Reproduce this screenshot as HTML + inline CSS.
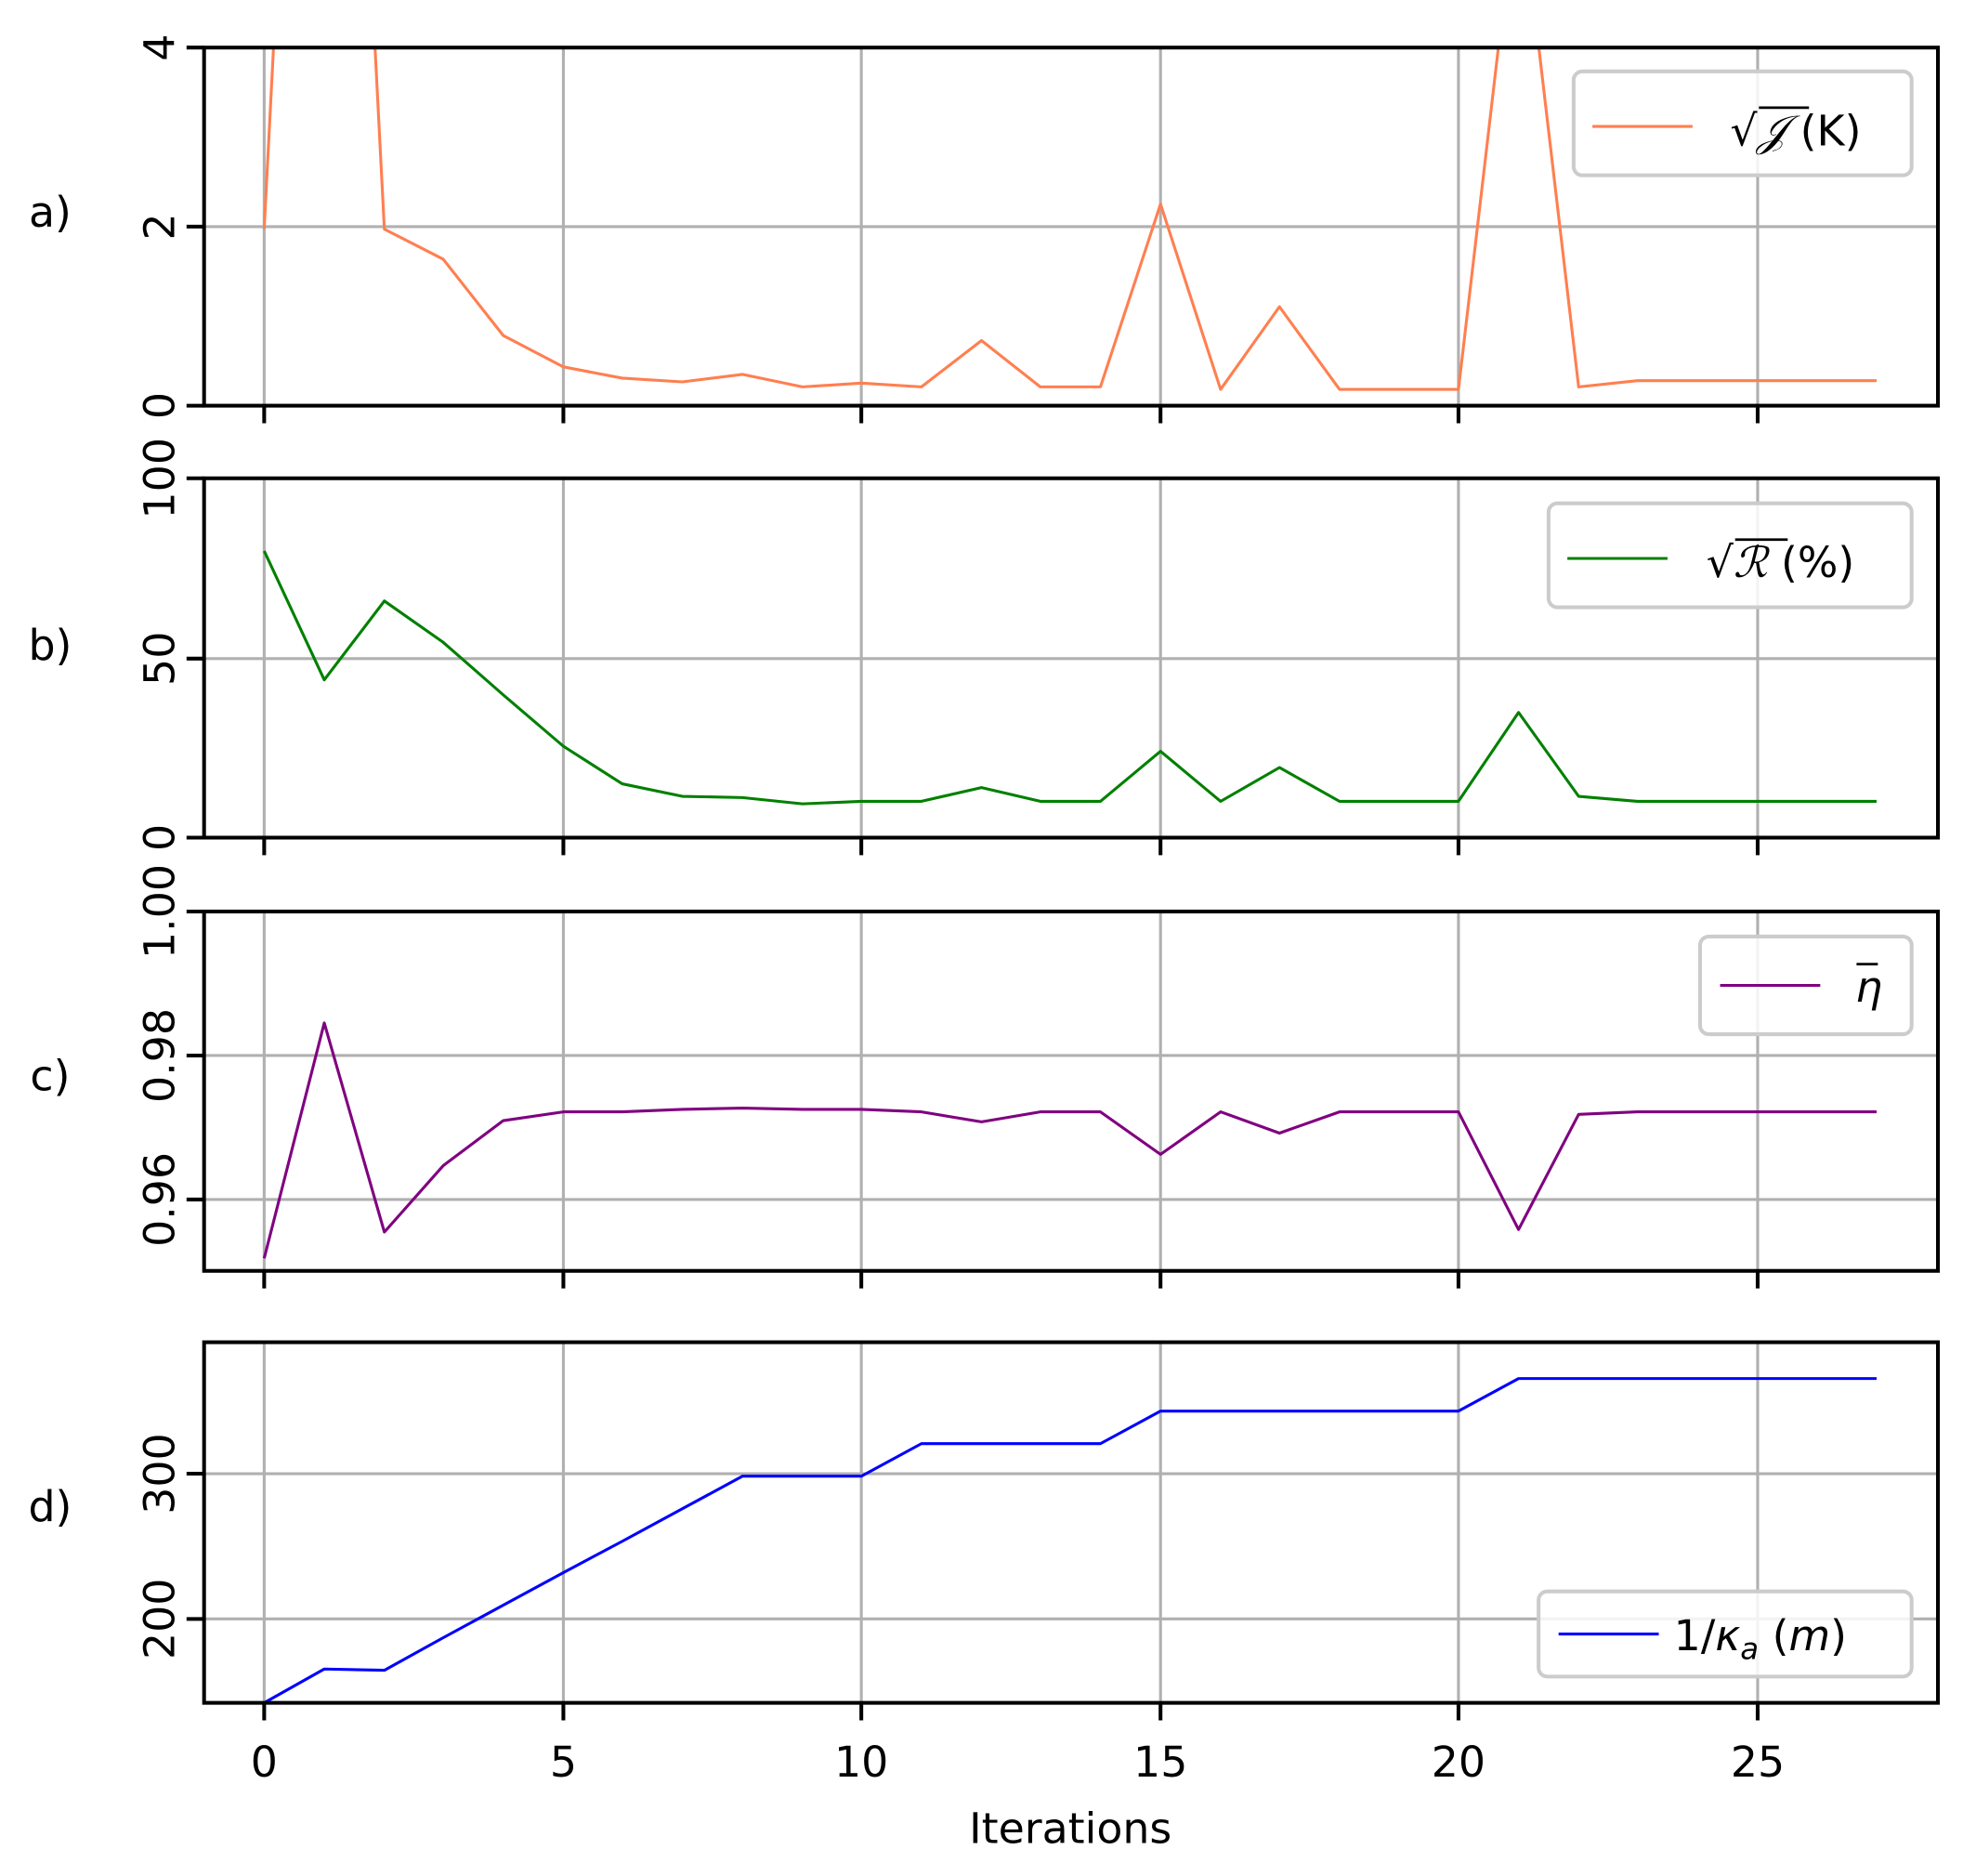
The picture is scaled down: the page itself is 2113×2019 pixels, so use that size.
<!DOCTYPE html>
<html><head><meta charset="utf-8"><style>html,body{margin:0;padding:0;background:#fff}svg{display:block}</style></head>
<body>
<svg xmlns="http://www.w3.org/2000/svg" width="2113" height="2019" viewBox="0 0 1568 1498.3" font-family="DejaVu Sans, Liberation Sans, sans-serif" font-size="34">
<defs>
<clipPath id="ca"><rect x="163" y="38" width="1385" height="286"/></clipPath>
<clipPath id="cb"><rect x="163" y="382" width="1385" height="287"/></clipPath>
<clipPath id="cc"><rect x="163" y="728" width="1385" height="287"/></clipPath>
<clipPath id="cd"><rect x="163" y="1072" width="1385" height="288"/></clipPath>
</defs>
<g stroke="#b0b0b0" stroke-width="2.3" fill="none">
<path d="M211,38V324M450,38V324M688,38V324M927,38V324M1165,38V324M1404,38V324"/>
<path d="M211,382V669M450,382V669M688,382V669M927,382V669M1165,382V669M1404,382V669"/>
<path d="M211,728V1015M450,728V1015M688,728V1015M927,728V1015M1165,728V1015M1404,728V1015"/>
<path d="M211,1072V1360M450,1072V1360M688,1072V1360M927,1072V1360M1165,1072V1360M1404,1072V1360"/>
<path d="M163,181H1548M163,526H1548M163,843H1548M163,958H1548M163,1177H1548M163,1293H1548"/>
</g>
<g fill="none" stroke-width="2.3" stroke-linejoin="round">
<polyline clip-path="url(#ca)" stroke="#ff7f50" points="211,183 259,-750 307,183 354,207 402,268 450,293 497,302 545,305 593,299 641,309 688,306 736,309 784,272 831,309 879,309 927,163 975,311 1022,245 1070,311 1118,311 1165,311 1213,-100 1261,309 1308,304 1356,304 1404,304 1452,304 1499,304"/>
<polyline clip-path="url(#cb)" stroke="#008000" points="211,440 259,543 307,480 354,513 402,555 450,596 497,626 545,636 593,637 641,642 688,640 736,640 784,629 831,640 879,640 927,600 975,640 1022,613 1070,640 1118,640 1165,640 1213,569 1261,636 1308,640 1356,640 1404,640 1452,640 1499,640"/>
<polyline clip-path="url(#cc)" stroke="#800080" points="211,1005 259,817 307,984 354,931 402,895 450,888 497,888 545,886 593,885 641,886 688,886 736,888 784,896 831,888 879,888 927,922 975,888 1022,905 1070,888 1118,888 1165,888 1213,982 1261,890 1308,888 1356,888 1404,888 1452,888 1499,888"/>
<polyline clip-path="url(#cd)" stroke="#0000ff" points="211,1360 259,1333 307,1334 354,1308 402,1282 450,1256 497,1231 545,1205 593,1179 641,1179 688,1179 736,1153 784,1153 831,1153 879,1153 927,1127 975,1127 1022,1127 1070,1127 1118,1127 1165,1127 1213,1101 1261,1101 1308,1101 1356,1101 1404,1101 1452,1101 1499,1101"/>
</g>
<g fill="none" stroke="#000" stroke-width="3">
<rect x="163" y="38" width="1385" height="286"/>
<rect x="163" y="382" width="1385" height="287"/>
<rect x="163" y="728" width="1385" height="287"/>
<rect x="163" y="1072" width="1385" height="288"/>
<path d="M211,324v14M450,324v14M688,324v14M927,324v14M1165,324v14M1404,324v14"/>
<path d="M211,669v14M450,669v14M688,669v14M927,669v14M1165,669v14M1404,669v14"/>
<path d="M211,1015v14M450,1015v14M688,1015v14M927,1015v14M1165,1015v14M1404,1015v14"/>
<path d="M211,1360v14M450,1360v14M688,1360v14M927,1360v14M1165,1360v14M1404,1360v14"/>
<path d="M149,38h14M149,181h14M149,324h14M149,382h14M149,526h14M149,669h14M149,728h14M149,843h14M149,958h14M149,1177h14M149,1293h14"/>
</g>
<g fill="#000" text-anchor="middle">
<text transform="translate(139,38) rotate(-90)">4</text>
<text transform="translate(139,181) rotate(-90)">2</text>
<text transform="translate(139,324) rotate(-90)">0</text>
<text transform="translate(139,382) rotate(-90)">100</text>
<text transform="translate(139,526) rotate(-90)">50</text>
<text transform="translate(139,669) rotate(-90)">0</text>
<text transform="translate(139,728) rotate(-90)">1.00</text>
<text transform="translate(139,843) rotate(-90)">0.98</text>
<text transform="translate(139,958) rotate(-90)">0.96</text>
<text transform="translate(139,1177) rotate(-90)">300</text>
<text transform="translate(139,1293) rotate(-90)">200</text>
<text x="211" y="1419">0</text>
<text x="450" y="1419">5</text>
<text x="688" y="1419">10</text>
<text x="927" y="1419">15</text>
<text x="1165" y="1419">20</text>
<text x="1404" y="1419">25</text>
<text x="855" y="1472">Iterations</text>
<text x="40" y="181">a)</text>
<text x="40" y="527">b)</text>
<text x="40" y="871">c)</text>
<text x="40" y="1215">d)</text>
</g>
<g fill="#fff" fill-opacity="0.85" stroke="#cccccc" stroke-width="3">
<rect x="1257" y="57" width="270" height="83" rx="7"/>
<rect x="1237" y="402" width="290" height="83" rx="7"/>
<rect x="1358" y="748" width="169" height="78" rx="7"/>
<rect x="1229" y="1271" width="298" height="68" rx="7"/>
</g>
<g stroke-width="2.3">
<line x1="1272" y1="101" x2="1352" y2="101" stroke="#ff7f50"/>
<line x1="1252" y1="446" x2="1332" y2="446" stroke="#008000"/>
<line x1="1374" y1="787" x2="1454" y2="787" stroke="#800080"/>
<line x1="1245" y1="1305" x2="1325" y2="1305" stroke="#0000ff"/>
</g>
<g fill="#000" font-size="34">
<text x="1382" y="116"><tspan font-family="DejaVu Serif, serif">√</tspan><tspan font-family="DejaVu Serif, serif" font-style="italic">𝒥</tspan> (K)</text>
<line x1="1405" y1="86" x2="1445" y2="86" stroke="#000" stroke-width="2"/>
<text x="1363" y="461"><tspan font-family="DejaVu Serif, serif">√</tspan><tspan font-family="DejaVu Serif, serif" font-style="italic">ℛ</tspan> (%)</text>
<line x1="1386" y1="431" x2="1428" y2="431" stroke="#000" stroke-width="2"/>
<text x="1482" y="800" font-style="italic">η</text>
<line x1="1483" y1="770" x2="1500" y2="770" stroke="#000" stroke-width="2"/>
<text x="1337" y="1318">1/<tspan font-style="italic">κ</tspan><tspan font-style="italic" font-size="24" dy="7">a</tspan><tspan dy="-7"> (</tspan><tspan font-style="italic">m</tspan>)</text>
</g>
</svg>
</body></html>
